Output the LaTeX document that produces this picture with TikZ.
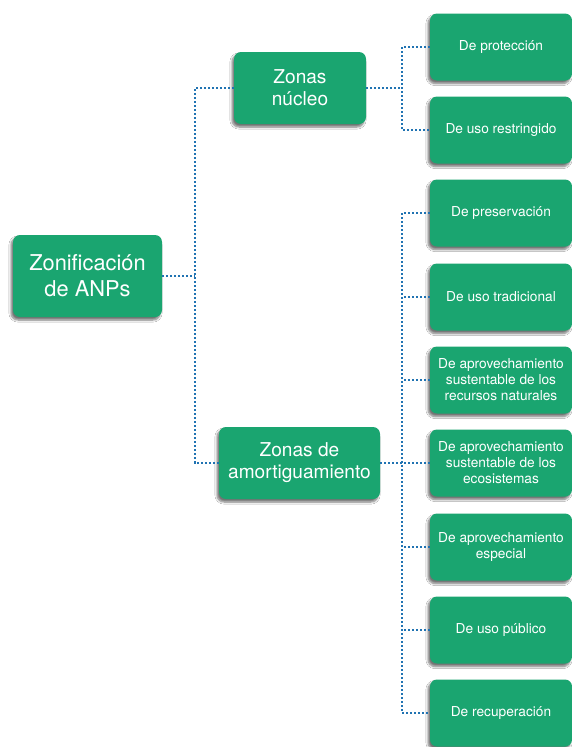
\documentclass[tikz,border=0pt]{standalone}
\usepackage{fontspec}
\setmainfont{TeX Gyre Heros}
\usetikzlibrary{shadows.blur}
\definecolor{boxgreen}{RGB}{26,165,112}
\definecolor{linkblue}{RGB}{32,115,178}
\begin{document}
\begin{tikzpicture}[x=1pt,y=-1pt,
  box/.style={draw=none, fill=boxgreen, rounded corners=7pt, text=white, align=center, inner sep=2pt,
    blur shadow={shadow xshift=-2pt, shadow yshift=-3pt, shadow blur steps=6, shadow opacity=55}},
  rootbox/.style={box, minimum width=149pt, minimum height=82pt, font=\fontsize{21.8}{26}\selectfont},
  midbox/.style={box, minimum height=72pt, font=\fontsize{19.1}{22}\selectfont},
  leafbox/.style={box, minimum width=142pt, minimum height=67pt, font=\fontsize{13.7}{16}\selectfont},
  link/.style={draw=linkblue, line width=2.6pt, dash pattern=on 2.1pt off 1.9pt}]
\useasboundingbox (0,0) rectangle (572,747);
\fill[white] (0,0) rectangle (572,747);

\node[rootbox] (root) at (87.5,276) {Zonificación\\de ANPs};
\node[midbox, minimum width=132pt] (nuc) at (300,88) {Zonas\\núcleo};
\node[midbox, minimum width=161pt] (amo) at (299.5,463) {Zonas de\\amortiguamiento};

\node[leafbox] (p1) at (501,47) {De protección};
\node[leafbox] (p2) at (501,130) {De uso restringido};

\node[leafbox] (a1) at (501,213) {De preservación};
\node[leafbox] (a2) at (501,297) {De uso tradicional};
\node[leafbox] (a3) at (501,380) {De aprovechamiento\\sustentable de los\\recursos naturales};
\node[leafbox] (a4) at (501,463) {De aprovechamiento\\sustentable de los\\ecosistemas};
\node[leafbox] (a5) at (501,547) {De aprovechamiento\\especial};
\node[leafbox] (a6) at (501,630) {De uso público};
\node[leafbox] (a7) at (501,713) {De recuperación};

\coordinate (j1) at (195,0);
\coordinate (j2) at (402,0);

\draw[link] (nuc.west) -- (nuc.west -| j1) |- (amo.west);
\draw[link] (root.east) -- (root.east -| j1);

\draw[link] (p1.west) -- (p1.west -| j2) |- (p2.west);
\draw[link] (nuc.east) -- (nuc.east -| j2);

\draw[link] (a1.west) -- (a1.west -| j2) |- (a7.west);
\draw[link] (a2.west) -- (a2.west -| j2);
\draw[link] (a3.west) -- (a3.west -| j2);
\draw[link] (a4.west) -- (a4.west -| j2);
\draw[link] (a5.west) -- (a5.west -| j2);
\draw[link] (a6.west) -- (a6.west -| j2);
\draw[link] (amo.east) -- (amo.east -| j2);
\end{tikzpicture}
\end{document}
